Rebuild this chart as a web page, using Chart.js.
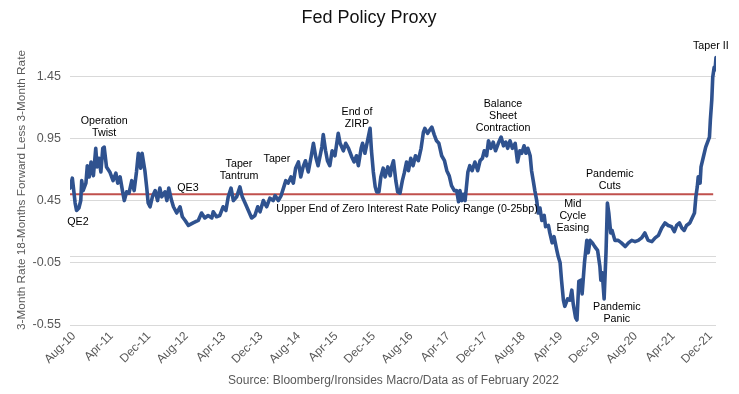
<!DOCTYPE html>
<html>
<head>
<meta charset="utf-8">
<script src="https://cdn.jsdelivr.net/npm/chart.js@4.4.1/dist/chart.umd.min.js"></script>
<style>
html,body{margin:0;padding:0;background:#fff;}
canvas{display:block;}
</style>
</head>
<body>
<canvas id="c" width="739" height="394"></canvas>
<script>
// Months since Aug-2010
const months = [
  0, 0.5, 1.1, 1.4, 1.9, 2.3, 2.5, 2.8, 3.4, 3.7,
  4.1, 4.5, 5.0, 5.5, 5.8, 6.2, 6.6, 7.0, 7.3, 7.8,
  8.5, 9.2, 9.8, 10.2, 10.7, 11.2, 11.6, 12.1, 12.6, 13.2,
  13.7, 14.2, 14.6, 15.1, 15.4, 16.0, 16.4, 16.7, 17.1, 17.6,
  18.2, 18.7, 19.2, 19.6, 20.3, 20.7, 21.1, 21.7, 22.1, 22.8,
  23.5, 24.0, 24.6, 25.3, 26.3, 27.4, 28.1, 28.8, 29.5, 30.3,
  30.6, 31.3, 32.0, 32.7, 33.3, 33.8, 34.4, 34.9, 35.6, 36.3,
  36.8, 37.4, 38.1, 38.8, 39.5, 40.1, 40.6, 41.3, 42.0, 42.7,
  43.4, 43.8, 44.5, 45.1, 45.6, 46.1, 46.6, 47.2, 47.7, 48.2,
  48.8, 49.3, 49.8, 50.3, 50.9, 51.5, 52.0, 52.5, 53.0, 53.8,
  54.1, 54.6, 55.0, 55.5, 56.0, 56.6, 57.3, 57.7, 58.4, 58.9,
  59.5, 60.2, 60.7, 61.2, 61.6, 62.2, 62.5, 63.0, 63.5, 64.1,
  64.4, 64.8, 65.2, 65.5, 66.0, 66.4, 66.9, 67.3, 67.9, 68.4,
  68.7, 69.1, 69.6, 70.0, 70.5, 71.0, 71.4, 71.9, 72.3, 72.8,
  73.3, 73.8, 74.4, 75.0, 75.5, 75.8, 76.4, 76.9, 77.3, 77.8,
  78.3, 78.8, 79.4, 80.0, 80.5, 81.0, 81.5, 82.1, 82.6, 83.0,
  83.3, 83.7, 84.0, 84.4, 85.0, 85.4, 85.9, 86.5, 87.1, 87.6,
  88.1, 88.5, 89.0, 89.4, 89.9, 90.4, 90.9, 91.5, 92.1, 92.6,
  93.1, 93.5, 94.0, 94.5, 95.1, 95.6, 96.1, 96.5, 97.0, 97.4,
  97.8, 98.3, 98.6, 99.0, 99.3, 99.7, 100.0, 100.4, 100.8, 101.3,
  101.6, 102.2, 102.5, 103.0, 103.4, 104.0, 104.3, 104.7, 105.0, 105.4,
  105.7, 106.3, 106.8, 107.2, 107.5, 108.0, 108.3, 108.7, 109.2, 109.4,
  109.9, 110.4, 110.7, 111.1, 111.6, 112.1, 112.7, 113.2, 113.4, 113.7,
  114.1, 114.5, 114.8, 115.1, 115.5, 115.8, 116.4, 117.1, 117.8, 118.6,
  119.3, 120.0, 120.7, 121.4, 122.1, 122.8, 123.5, 124.3, 125.0, 125.7,
  126.4, 127.1, 127.8, 128.5, 129.1, 129.6, 130.2, 130.7, 131.2, 131.7,
  132.4, 132.9, 133.4, 133.7, 134.0, 134.2, 134.6, 134.8, 135.3, 135.8,
  136.2, 136.6, 136.8, 137.1, 137.3, 137.6, 137.8, 138.0
];
const proxy = [
  0.55, 0.63, 0.43, 0.37, 0.39, 0.45, 0.61, 0.53, 0.59, 0.73,
  0.64, 0.76, 0.65, 0.87, 0.72, 0.79, 0.68, 0.87, 0.88, 0.72,
  0.68, 0.61, 0.67, 0.59, 0.64, 0.53, 0.45, 0.52, 0.51, 0.61,
  0.53, 0.68, 0.83, 0.71, 0.83, 0.69, 0.55, 0.43, 0.40, 0.48,
  0.53, 0.45, 0.55, 0.48, 0.52, 0.45, 0.55, 0.45, 0.40, 0.35,
  0.40, 0.32, 0.29, 0.25, 0.27, 0.29, 0.35, 0.31, 0.33, 0.31,
  0.36, 0.32, 0.33, 0.40, 0.37, 0.48, 0.55, 0.45, 0.48, 0.56,
  0.48, 0.43, 0.37, 0.31, 0.33, 0.40, 0.36, 0.45, 0.40, 0.47,
  0.45, 0.49, 0.45, 0.49, 0.55, 0.61, 0.59, 0.64, 0.59, 0.71,
  0.76, 0.64, 0.72, 0.77, 0.68, 0.80, 0.91, 0.80, 0.73, 0.88,
  0.98, 0.85, 0.77, 0.73, 0.85, 0.81, 0.99, 0.91, 0.85, 0.91,
  0.87, 0.80, 0.76, 0.81, 0.73, 0.87, 0.91, 0.83, 0.92, 1.03,
  0.85, 0.68, 0.56, 0.52, 0.52, 0.64, 0.71, 0.64, 0.72, 0.65,
  0.72, 0.77, 0.61, 0.52, 0.51, 0.61, 0.67, 0.76, 0.69, 0.79,
  0.73, 0.81, 0.77, 0.87, 1.00, 1.03, 0.99, 1.02, 1.04, 0.98,
  0.93, 0.91, 0.81, 0.77, 0.69, 0.65, 0.57, 0.53, 0.53, 0.44,
  0.53, 0.45, 0.50, 0.45, 0.68, 0.73, 0.69, 0.76, 0.69, 0.77,
  0.79, 0.85, 0.81, 0.93, 0.87, 0.92, 0.85, 0.91, 0.96, 0.89,
  0.92, 0.87, 0.93, 0.87, 0.91, 0.76, 0.85, 0.83, 0.89, 0.83,
  0.87, 0.81, 0.69, 0.60, 0.53, 0.45, 0.35, 0.39, 0.29, 0.33,
  0.24, 0.25, 0.19, 0.11, 0.16, 0.05, 0.00, -0.05, -0.19, -0.35,
  -0.40, -0.34, -0.35, -0.27, -0.38, -0.49, -0.51, -0.20, -0.19, -0.30,
  -0.05, 0.13, 0.03, 0.13, 0.11, 0.08, 0.05, -0.08, -0.19, -0.13,
  -0.34, 0.03, 0.43, 0.35, 0.19, 0.21, 0.13, 0.13, 0.11, 0.08,
  0.11, 0.13, 0.12, 0.13, 0.15, 0.19, 0.13, 0.12, 0.15, 0.17,
  0.23, 0.27, 0.25, 0.24, 0.20, 0.25, 0.27, 0.23, 0.21, 0.25,
  0.27, 0.31, 0.35, 0.48, 0.56, 0.64, 0.59, 0.72, 0.80, 0.88,
  0.92, 0.96, 1.10, 1.26, 1.44, 1.52, 1.50, 1.60
];
const zirpMonths = [0, 137.4];
const zirpLevel = [0.5, 0.5];

const xTickMonths = [0, 8, 16, 24, 32, 40, 48, 56, 64, 72, 80, 88, 96, 104, 112, 120, 128, 136];
const xTickLabels = ['Aug-10','Apr-11','Dec-11','Aug-12','Apr-13','Dec-13','Aug-14','Apr-15','Dec-15',
                     'Aug-16','Apr-17','Dec-17','Aug-18','Apr-19','Dec-19','Aug-20','Apr-21','Dec-21'];
const yTicks = [-0.55, -0.05, 0.45, 0.95, 1.45];

const notes = [
  {text: ['QE2'], m: 1.7, v: 0.277},
  {text: ['Operation', 'Twist'], m: 7.3, v: 1.088},
  {text: ['QE3'], m: 25.2, v: 0.55},
  {text: ['Taper', 'Tantrum'], m: 36.1, v: 0.742},
  {text: ['Taper'], m: 44.2, v: 0.782},
  {text: ['Upper End of Zero Interest Rate Policy Range (0-25bp)'], m: 72.0, v: 0.381},
  {text: ['End of', 'ZIRP'], m: 61.3, v: 1.16},
  {text: ['Balance', 'Sheet', 'Contraction'], m: 92.5, v: 1.224},
  {text: ['Mid', 'Cycle', 'Easing'], m: 107.4, v: 0.421},
  {text: ['Pandemic', 'Cuts'], m: 115.3, v: 0.662},
  {text: ['Pandemic', 'Panic'], m: 116.8, v: -0.405},
  {text: ['Taper II'], m: 136.9, v: 1.69}
];

const FONT = '"Liberation Sans", Arial, sans-serif';

const textPlugin = {
  id: 'texts',
  afterDraw(chart) {
    const ctx = chart.ctx;
    const xs = chart.scales.x, ys = chart.scales.y;
    ctx.save();
    // title
    ctx.fillStyle = '#111';
    ctx.font = '18px ' + FONT;
    ctx.textAlign = 'center';
    ctx.textBaseline = 'middle';
    ctx.fillText('Fed Policy Proxy', 369, 18);
    // source
    ctx.fillStyle = '#595959';
    ctx.font = '12px ' + FONT;
    ctx.fillText('Source: Bloomberg/Ironsides Macro/Data as of February 2022', 393.5, 381);
    // y title
    ctx.save();
    ctx.translate(22, 190);
    ctx.rotate(-Math.PI / 2);
    ctx.font = '11.8px ' + FONT;
    ctx.fillText('3-Month Rate 18-Months Forward Less 3-Month Rate', 0, 0);
    ctx.restore();
    // annotations
    ctx.fillStyle = '#000';
    ctx.font = '10.7px ' + FONT;
    notes.forEach(n => {
      const px = xs.getPixelForValue(n.m);
      const py = ys.getPixelForValue(n.v);
      n.text.forEach((t, i) => ctx.fillText(t, px, py + i * 12));
    });
    ctx.restore();
  }
};

new Chart(document.getElementById('c'), {
  type: 'line',
  data: {
    datasets: [
      {
        label: 'ZIRP upper',
        data: zirpMonths.map((m, i) => ({x: m, y: zirpLevel[i]})),
        borderColor: '#C0504D',
        borderWidth: 2,
        pointRadius: 0,
        tension: 0,
        order: 2
      },
      {
        label: 'Fed Policy Proxy',
        data: months.map((m, i) => ({x: m, y: proxy[i]})),
        borderColor: '#2F528F',
        borderWidth: 3.6,
        pointRadius: 0,
        tension: 0,
        borderJoinStyle: 'round',
        borderCapStyle: 'round',
        order: 1
      }
    ]
  },
  options: {
    responsive: false,
    animation: false,
    layout: {padding: {top: 45, right: 23, bottom: 0, left: 0}},
    plugins: {legend: {display: false}, tooltip: {enabled: false}, title: {display: false}},
    scales: {
      x: {
        type: 'linear',
        min: 0,
        max: 138,
        afterBuildTicks: s => { s.ticks = xTickMonths.map(v => ({value: v})); },
        afterFit: s => { s.height = 69; },
        grid: {display: false, drawTicks: false},
        border: {display: false},
        ticks: {
          autoSkip: false,
          maxRotation: 45,
          minRotation: 45,
          padding: 4,
          labelOffset: 4,
          color: '#595959',
          font: {family: FONT, size: 12},
          callback: (v, i) => xTickLabels[i]
        }
      },
      y: {
        type: 'linear',
        min: -0.55,
        max: 1.7,
        afterBuildTicks: s => { s.ticks = yTicks.concat([0]).sort((a, b) => a - b).map(v => ({value: v})); },
        afterFit: s => { s.width = 70; },
        grid: {color: '#D9D9D9', lineWidth: 1, drawTicks: false},
        border: {display: false},
        ticks: {
          padding: 9,
          color: '#595959',
          font: {family: FONT, size: 12.5},
          callback: v => (v === 0 ? '' : v.toFixed(2))
        }
      }
    }
  },
  plugins: [textPlugin]
});
</script>
</body>
</html>
